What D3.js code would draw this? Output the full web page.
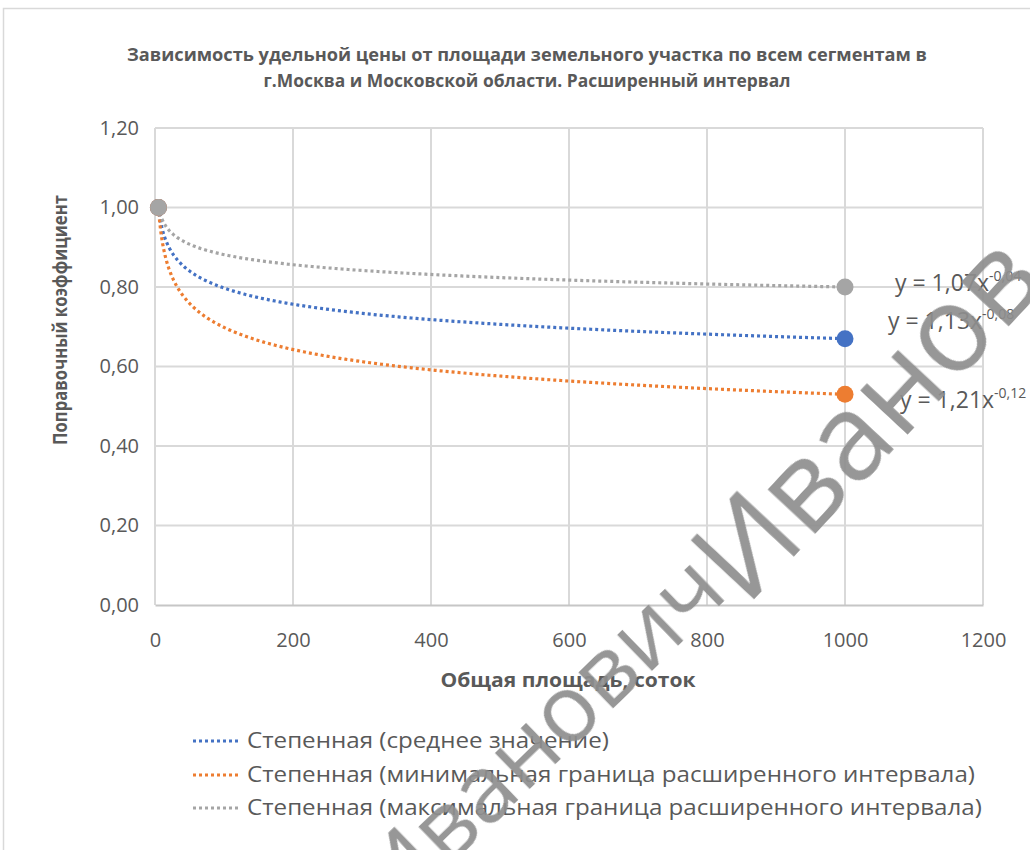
<!DOCTYPE html>
<html>
<head>
<meta charset="utf-8">
<script src="https://cdn.jsdelivr.net/npm/d3@7"></script>
<style>
  body { margin: 0; background: #ffffff; }
  text { font-family: "Open Sans", "Liberation Sans", sans-serif; }
</style>
</head>
<body>
<svg id="chart" width="1030" height="850"></svg>
<script>
// ---- data ----
const areaX = [5, 1000];                 // общая площадь, соток
const meanValues = [1.00, 0.67];         // среднее значение
const minValues = [1.00, 0.53];          // минимальная граница
const maxValues = [1.00, 0.80];          // максимальная граница
const xTicks = [0, 200, 400, 600, 800, 1000, 1200];
const yTicks = [0, 0.2, 0.4, 0.6, 0.8, 1.0, 1.2];
const seriesNames = [
  "Степенная (среднее значение)",
  "Степенная (минимальная граница расширенного интервала)",
  "Степенная (максимальная граница расширенного интервала)"
];
const seriesColors = ["#4472C4", "#ED7D31", "#A5A5A5"];
const titleLines = [
  "Зависимость удельной цены от площади земельного участка по всем сегментам в",
  "г.Москва и Московской области. Расширенный интервал"
];
const xTitle = "Общая площадь, соток";
const yTitle = "Поправочный коэффициент";
const watermarkLines = ["Иванов", "Иванович"];

// ---- setup ----
const svg = d3.select("#chart");
const textColor = "#595959";
const gridColor = "#d9d9d9";
const ru = d3.formatLocale({ decimal: ",", thousands: "\u00a0", grouping: [3], currency: ["", " ₽"], minus: "-" });
const fmt2 = ru.format(".2f");

const x = d3.scaleLinear().domain([0, 1200]).range([155, 983]);
const y = d3.scaleLinear().domain([0, 1.2]).range([605, 128]);

// power trend y = a * x^b fitted by least squares in log-log space
function powerFit(xs, ys) {
  const lx = xs.map(Math.log), ly = ys.map(Math.log);
  const mx = d3.mean(lx), my = d3.mean(ly);
  let sxy = 0, sxx = 0;
  for (let i = 0; i < xs.length; i++) { sxy += (lx[i] - mx) * (ly[i] - my); sxx += (lx[i] - mx) ** 2; }
  const b = sxy / sxx;
  return { a: Math.exp(my - b * mx), b };
}

const series = [meanValues, minValues, maxValues].map((vals, i) => ({
  name: seriesNames[i], color: seriesColors[i], values: vals, fit: powerFit(areaX, vals)
}));

// outer chart frame
svg.append("rect")
  .attr("x", 3.5).attr("y", 8.5).attr("width", 1100).attr("height", 900)
  .attr("fill", "#ffffff").attr("stroke", "#d9d9d9").attr("stroke-width", 1.5);

// title
svg.append("g").selectAll("text").data(titleLines).join("text")
  .attr("x", 527).attr("y", (d, i) => 55 + i * 26)
  .attr("dy", "0.35em")
  .attr("text-anchor", "middle")
  .attr("font-size", 17).attr("font-weight", "bold").attr("fill", textColor)
  .attr("textLength", (d, i) => [800, 527][i])
  .attr("lengthAdjust", "spacingAndGlyphs")
  .text(d => d);

// gridlines
const grid = svg.append("g");
grid.selectAll("line.h").data(yTicks.filter(d => d > 0)).join("line")
  .attr("class", "h")
  .attr("x1", x(0)).attr("x2", x(1200))
  .attr("y1", d => y(d)).attr("y2", d => y(d))
  .attr("stroke", gridColor).attr("stroke-width", 2);
grid.selectAll("line.v").data(xTicks).join("line")
  .attr("class", "v")
  .attr("y1", y(0)).attr("y2", y(1.2))
  .attr("x1", d => x(d)).attr("x2", d => x(d))
  .attr("stroke", gridColor).attr("stroke-width", 2);

// x axis
const xAxis = svg.append("g")
  .attr("transform", `translate(0,${y(0)})`)
  .call(d3.axisBottom(x).tickValues(xTicks).tickFormat(d3.format("d")).tickSize(0).tickPadding(28));
xAxis.select(".domain").attr("stroke", "#c6c6c6").attr("stroke-width", 2);
xAxis.selectAll("text").attr("font-size", 20).attr("fill", textColor)
  .attr("font-family", "'Open Sans', sans-serif");

// y axis
const yAxis = svg.append("g")
  .attr("transform", `translate(${x(0)},0)`)
  .call(d3.axisLeft(y).tickValues(yTicks).tickFormat(fmt2).tickSize(0).tickPadding(16));
yAxis.select(".domain").remove();
yAxis.selectAll("text").attr("font-size", 20).attr("fill", textColor)
  .attr("font-family", "'Open Sans', sans-serif");

// axis titles
svg.append("text")
  .attr("x", 568).attr("y", 680).attr("dy", "0.35em")
  .attr("text-anchor", "middle")
  .attr("font-size", 20).attr("font-weight", "bold").attr("fill", textColor)
  .attr("textLength", 255).attr("lengthAdjust", "spacingAndGlyphs")
  .text(xTitle);
svg.append("text")
  .attr("transform", "translate(60,320) rotate(-90)")
  .attr("dy", "0.35em")
  .attr("text-anchor", "middle")
  .attr("font-size", 20).attr("font-weight", "bold").attr("fill", textColor)
  .attr("textLength", 250).attr("lengthAdjust", "spacingAndGlyphs")
  .text(yTitle);

// trendlines
const xs = d3.range(0, 301).map(i => areaX[0] * Math.pow(areaX[1] / areaX[0], i / 300));
const line = d3.line().x(d => x(d[0])).y(d => y(d[1]));
const trendDash = "3 3";
svg.append("g").selectAll("path").data(series).join("path")
  .attr("d", s => line(xs.map(v => [v, s.fit.a * Math.pow(v, s.fit.b)])))
  .attr("fill", "none")
  .attr("stroke", s => s.color)
  .attr("stroke-width", 3.2)
  .attr("stroke-dasharray", trendDash);

// data markers
const markers = svg.append("g");
series.forEach(s => {
  markers.selectAll(null).data(areaX.map((v, i) => [v, s.values[i]])).join("circle")
    .attr("cx", d => x(d[0])).attr("cy", d => y(d[1]))
    .attr("r", 8.5).attr("fill", s.color);
});

// trendline equations
const eqPos = [[888, 321], [900, 400], [895, 283]];
series.forEach((s, i) => {
  const t = svg.append("text")
    .attr("x", eqPos[i][0]).attr("y", eqPos[i][1]).attr("dy", "0.35em")
    .attr("font-size", 23).attr("fill", textColor);
  t.append("tspan").text(`y = ${fmt2(s.fit.a)}x`);
  t.append("tspan").attr("font-size", 14).attr("dy", "-0.75em").text(fmt2(s.fit.b));
});

// legend
const legend = svg.append("g");
const legendRows = [741, 775, 808];
const legendTexts = series.map((s, i) => {
  legend.append("line")
    .attr("x1", 193).attr("x2", 241)
    .attr("y1", legendRows[i]).attr("y2", legendRows[i])
    .attr("stroke", s.color).attr("stroke-width", 3.2)
    .attr("stroke-dasharray", trendDash);
  return legend.append("text")
    .attr("x", 247).attr("y", legendRows[i]).attr("dy", "0.35em")
    .attr("font-size", 21).attr("fill", textColor)
    .text(s.name);
});
// legend text is set in a narrower run, same factor for every row
const legendScale = 728 / legendTexts[1].node().getComputedTextLength();
legendTexts.forEach(t => t
  .attr("textLength", t.node().getComputedTextLength() * legendScale)
  .attr("lengthAdjust", "spacingAndGlyphs"));

// watermark
const wm = svg.append("g").attr("fill", "#8e8e8e").attr("opacity", 0.92)
  .attr("font-family", "'Liberation Sans', sans-serif");
wm.append("text").attr("transform", "translate(746,608) rotate(-47)")
  .attr("font-size", 120)
  .text(watermarkLines[0]);
wm.append("text").attr("transform", "translate(396,918) rotate(-44)")
  .attr("font-size", 94)
  .text(watermarkLines[1]);
</script>
</body>
</html>
